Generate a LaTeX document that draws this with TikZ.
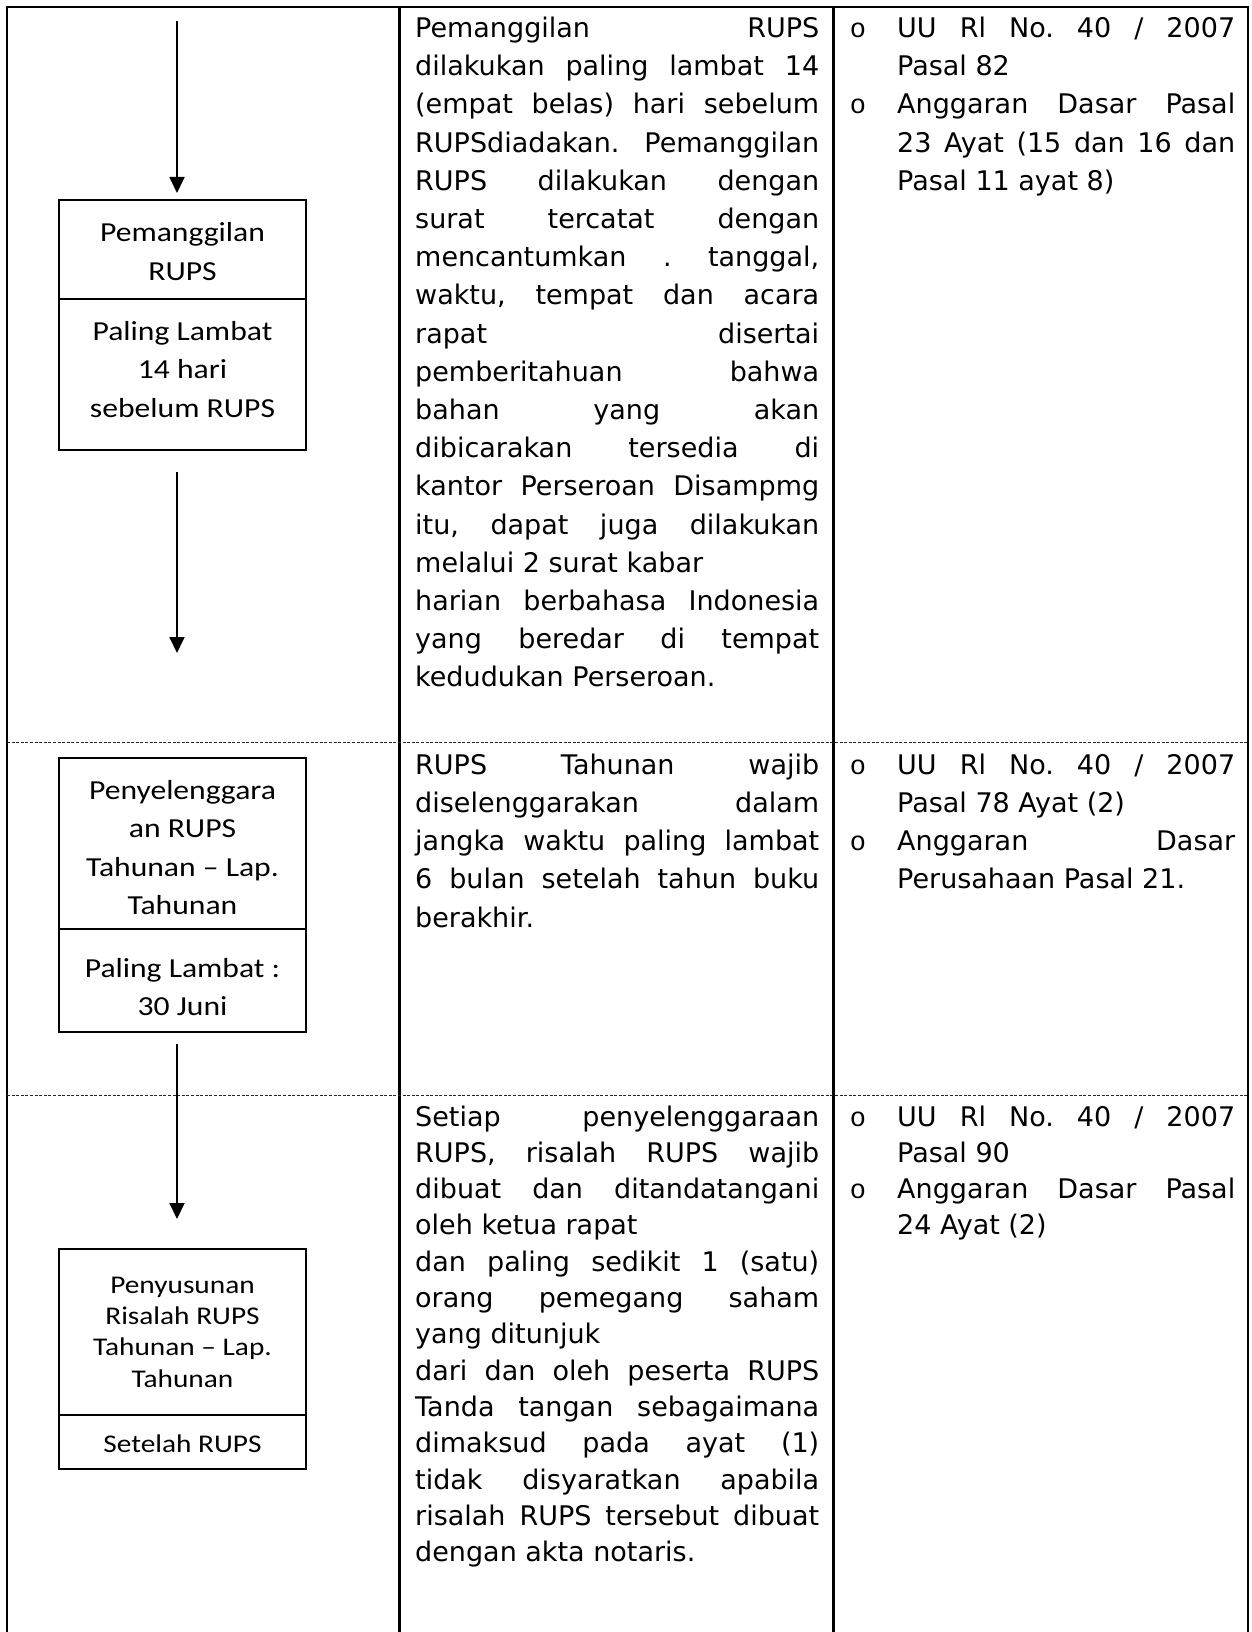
\documentclass[tikz,border=0pt]{standalone}
\usepackage{fontspec}
\setmainfont{DejaVu Sans}
\newfontfamily\boxfont[FakeStretch=1.15]{Carlito}
\newfontfamily\bulfont{Liberation Mono}
\usetikzlibrary{arrows.meta}
\frenchspacing
\begin{document}
\begin{tikzpicture}[x=1pt,y=-1pt,
  frame/.style={line width=2.4pt, black},
  sepline/.style={line width=0.9pt, dash pattern=on 3pt off 1.6pt, black!85},
  part/.style={draw, line width=1.5pt, minimum width=247pt, inner sep=0pt, outer sep=0pt},
  btext/.style={font=\boxfont\fontsize{27.5}{38}\selectfont, anchor=base, inner sep=0pt},
  bsmall/.style={font=\boxfont\fontsize{25.5}{31}\selectfont, anchor=base, inner sep=0pt},
  ctext/.style={font=\fontsize{27}{38}\selectfont\frenchspacing, anchor=base west, inner sep=0pt},
  bul/.style={font=\bulfont\fontsize{27}{38}\selectfont, anchor=base, inner sep=0pt},
  arr/.style={line width=1.8pt, -{Triangle[width=15pt,length=16pt]}}
]
\useasboundingbox (0,0) rectangle (1252,1632);
\fill[white] (0,0) rectangle (1252,1632);

% table frame
\draw[frame] (7,1632) -- (7,7) -- (1248,7) -- (1248,1632);
\draw[frame] (399.5,7) -- (399.5,1632);
\draw[frame] (833.5,7) -- (833.5,1632);
\draw[sepline] (7,742.5) -- (1248,742.5);
\draw[sepline] (7,1095.5) -- (1248,1095.5);

% boxes
\node[part, minimum height=99pt]  (b1a) at (182.5,249.5) {};
\node[part, minimum height=151pt] (b1b) at (182.5,374.5) {};
\node[part, minimum height=171pt] (b2a) at (182.5,843.5) {};
\node[part, minimum height=103pt] (b2b) at (182.5,980.5) {};
\node[part, minimum height=166pt] (b3a) at (182.5,1332) {};
\node[part, minimum height=54pt]  (b3b) at (182.5,1442) {};

% box texts
\node[btext] (t11) at (182.5,241.7) {Pemanggilan};
\node[btext] (t12) at (182.5,280.3) {RUPS};
\node[btext] (t13) at (182.5,340) {Paling Lambat};
\node[btext] (t14) at (182.5,378.7) {14 hari};
\node[btext] (t15) at (182.5,417.3) {sebelum RUPS};

\node[btext] (t21) at (182.5,799) {Penyelenggara};
\node[btext] (t22) at (182.5,837.5) {an RUPS};
\node[btext] (t23) at (182.5,876) {Tahunan – Lap.};
\node[btext] (t24) at (182.5,914.5) {Tahunan};
\node[btext] (t25) at (182.5,977) {Paling Lambat :};
\node[btext] (t26) at (182.5,1015.5) {30 Juni};

\node[bsmall] (t31) at (182.5,1293) {Penyusunan};
\node[bsmall] (t32) at (182.5,1324.3) {Risalah RUPS};
\node[bsmall] (t33) at (182.5,1355.6) {Tahunan – Lap.};
\node[bsmall] (t34) at (182.5,1387) {Tahunan};
\node[bsmall] (t35) at (182.5,1452) {Setelah RUPS};

% arrows
\coordinate (a1s) at (177,21);
\coordinate (a2e) at (177,653);
\draw[arr, shorten >=7pt] (a1s) -- (a1s |- b1a.north);
\draw[arr, shorten <=22pt] (a1s |- b1b.south) -- (a2e);
\draw[arr, shorten <=12pt, shorten >=30pt] (a1s |- b2b.south) -- (a1s |- b3a.north);

% column 2, row 1
\foreach \t [count=\i] in {{Pemanggilan RUPS},{dilakukan paling lambat 14},{(empat belas) hari sebelum},{RUPSdiadakan. Pemanggilan},{RUPS dilakukan dengan},{surat tercatat dengan},{mencantumkan . tanggal,},{waktu, tempat dan acara},{rapat disertai},{pemberitahuan bahwa},{bahan yang akan},{dibicarakan tersedia di},{kantor Perseroan Disampmg},{itu, dapat juga dilakukan},{melalui 2 surat kabar\hfill},{harian berbahasa Indonesia},{yang beredar di tempat},{kedudukan Perseroan.\hfill}}
  \node[ctext] (p\i) at (415,{37.5+38.2*(\i-1)}) {\makebox[404pt][s]{\t}};

% column 2, row 2
\foreach \t [count=\i] in {{RUPS Tahunan wajib},{diselenggarakan dalam},{jangka waktu paling lambat},{6 bulan setelah tahun buku},{berakhir.\hfill}}
  \node[ctext] (q\i) at (415,{774+38.3*(\i-1)}) {\makebox[404pt][s]{\t}};

% column 2, row 3
\foreach \t [count=\i] in {{Setiap penyelenggaraan},{RUPS, risalah RUPS wajib},{dibuat dan ditandatangani},{oleh ketua rapat\hfill},{dan paling sedikit 1 (satu)},{orang pemegang saham},{yang ditunjuk\hfill},{dari dan oleh peserta RUPS},{Tanda tangan sebagaimana},{dimaksud pada ayat (1)},{tidak disyaratkan apabila},{risalah RUPS tersebut dibuat},{dengan akta notaris.\hfill}}
  \node[ctext] (r\i) at (415,{1126+36.3*(\i-1)}) {\makebox[404pt][s]{\t}};

% column 3, row 1
\foreach \t [count=\i] in {{UU Rl No. 40 / 2007},{Pasal 82\hfill},{Anggaran Dasar Pasal},{23 Ayat (15 dan 16 dan},{Pasal 11 ayat 8)\hfill}}
  \node[ctext] (u\i) at (897,{37.5+38.2*(\i-1)}) {\makebox[338pt][s]{\t}};
\node[bul] (ub1) at (858,37.5) {o};
\node[bul] (ub2) at (858,113.9) {o};

% column 3, row 2
\foreach \t [count=\i] in {{UU Rl No. 40 / 2007},{Pasal 78 Ayat (2)\hfill},{Anggaran Dasar},{Perusahaan Pasal 21.\hfill}}
  \node[ctext] (v\i) at (897,{774+38.3*(\i-1)}) {\makebox[338pt][s]{\t}};
\node[bul] (vb1) at (858,774) {o};
\node[bul] (vb2) at (858,850.6) {o};

% column 3, row 3
\foreach \t [count=\i] in {{UU Rl No. 40 / 2007},{Pasal 90\hfill},{Anggaran Dasar Pasal},{24 Ayat (2)\hfill}}
  \node[ctext] (w\i) at (897,{1126+36.3*(\i-1)}) {\makebox[338pt][s]{\t}};
\node[bul] (wb1) at (858,1126) {o};
\node[bul] (wb2) at (858,1198.6) {o};
\end{tikzpicture}
\end{document}
